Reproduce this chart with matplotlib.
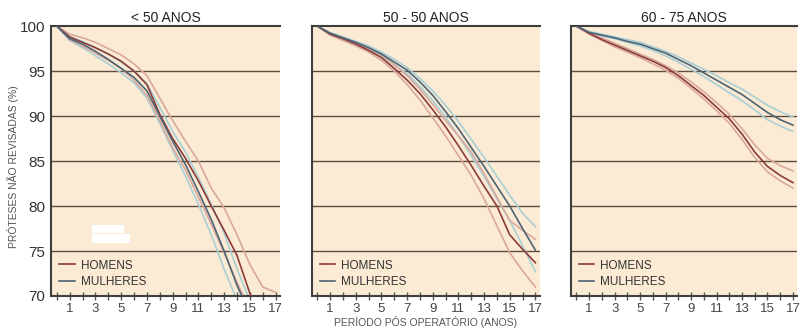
import matplotlib
matplotlib.use('Agg')
import matplotlib.pyplot as plt
from matplotlib.patches import Rectangle

plt.rcParams['font.family'] = ['Liberation Sans', 'DejaVu Sans']

anos = list(range(0, 18))
titulos = ['< 50 ANOS', '50 - 50 ANOS', '60 - 75 ANOS']

# < 50 anos
h1 = [100, 98.8, 98.2, 97.6, 96.9, 96.1, 95.0, 93.5, 90.2, 87.5, 85.3, 82.8, 80.0, 77.3, 74.5, 70.3, 67.5, 65.0]
h1_sup = [100, 99.1, 98.7, 98.2, 97.5, 96.8, 95.8, 94.5, 92.0, 89.5, 87.2, 85.0, 82.0, 79.8, 76.8, 73.5, 71.0, 70.4]
h1_inf = [100, 98.5, 97.8, 97.0, 96.2, 95.3, 94.0, 92.3, 89.5, 86.5, 84.0, 81.0, 78.0, 74.8, 71.5, 68.5, 66.0, 64.0]
m1 = [100, 98.6, 98.0, 97.2, 96.3, 95.3, 94.3, 92.8, 90.0, 87.2, 84.6, 81.6, 78.5, 75.0, 71.2, 68.0, 65.0, 62.0]
m1_sup = [100, 98.8, 98.3, 97.6, 96.9, 96.0, 95.0, 93.6, 91.0, 88.3, 86.0, 83.2, 80.2, 77.0, 73.0, 69.5, 66.5, 63.5]
m1_inf = [100, 98.4, 97.6, 96.7, 95.8, 94.8, 93.7, 92.0, 89.2, 86.2, 83.3, 80.2, 76.8, 73.0, 69.5, 66.0, 63.0, 60.0]

# 50 - 50 anos
h2 = [100, 99.1, 98.6, 98.0, 97.3, 96.5, 95.3, 94.0, 92.5, 90.7, 88.8, 86.7, 84.5, 82.2, 80.0, 76.8, 75.2, 73.7]
h2_sup = [100, 99.2, 98.7, 98.1, 97.5, 96.8, 95.7, 94.5, 93.0, 91.3, 89.5, 87.8, 86.0, 83.6, 81.0, 78.4, 77.3, 76.3]
h2_inf = [100, 99.0, 98.4, 97.8, 97.1, 96.2, 95.0, 93.5, 91.8, 89.8, 87.8, 85.6, 83.4, 80.8, 77.8, 74.8, 72.8, 71.0]
m2 = [100, 99.2, 98.7, 98.2, 97.6, 96.9, 96.0, 95.1, 93.8, 92.3, 90.5, 88.6, 86.5, 84.4, 82.2, 80.0, 77.5, 75.1]
m2_sup = [100, 99.3, 98.8, 98.3, 97.8, 97.1, 96.3, 95.4, 94.2, 92.8, 91.2, 89.4, 87.4, 85.4, 83.3, 81.2, 79.2, 77.7]
m2_inf = [100, 99.1, 98.6, 98.0, 97.4, 96.7, 95.7, 94.7, 93.3, 91.7, 89.9, 87.8, 85.6, 83.3, 80.8, 78.4, 75.6, 72.7]

# 60 - 75 anos
h3 = [100, 99.2, 98.5, 97.9, 97.3, 96.7, 96.1, 95.4, 94.5, 93.4, 92.3, 91.0, 89.7, 88.0, 86.0, 84.4, 83.4, 82.6]
h3_sup = [100, 99.3, 98.7, 98.1, 97.5, 96.9, 96.3, 95.6, 94.8, 93.8, 92.7, 91.5, 90.2, 88.6, 86.8, 85.3, 84.5, 83.9]
h3_inf = [100, 99.1, 98.4, 97.7, 97.1, 96.5, 95.8, 95.1, 94.2, 93.1, 91.9, 90.6, 89.2, 87.4, 85.4, 83.8, 82.8, 82.0]
m3 = [100, 99.3, 99.0, 98.7, 98.3, 98.0, 97.5, 97.0, 96.3, 95.6, 94.8, 94.0, 93.2, 92.4, 91.4, 90.4, 89.6, 89.0]
m3_sup = [100, 99.4, 99.1, 98.8, 98.5, 98.2, 97.7, 97.2, 96.6, 95.9, 95.2, 94.5, 93.7, 93.0, 92.1, 91.2, 90.5, 89.9]
m3_inf = [100, 99.2, 98.9, 98.6, 98.2, 97.8, 97.3, 96.7, 96.0, 95.2, 94.4, 93.5, 92.6, 91.7, 90.7, 89.6, 88.9, 88.3]

dados = [
    (h1, h1_sup, h1_inf, m1, m1_sup, m1_inf),
    (h2, h2_sup, h2_inf, m2, m2_sup, m2_inf),
    (h3, h3_sup, h3_inf, m3, m3_sup, m3_inf),
]

fundo = '#fcebd4'
cor_h = '#8c3b3b'
cor_h_claro = '#d8a89c'
cor_m = '#4d6474'
cor_m_claro = '#a8cfd4'
cor_grade = '#5b4b40'

fig = plt.figure(figsize=(8.01, 3.34), dpi=100)
lefts = [0.0637, 0.389, 0.7125]
widths = [0.286, 0.285, 0.283]

for i, (h, hs, hi, m, ms, mi) in enumerate(dados):
    ax = fig.add_axes([lefts[i], 0.1138, widths[i], 0.808])
    ax.set_facecolor(fundo)
    for y in [75, 80, 85, 90, 95]:
        ax.axhline(y, color=cor_grade, lw=1.0, zorder=1)

    ax.plot(anos, ms, color=cor_m_claro, lw=1.2, zorder=2)
    ax.plot(anos, mi, color=cor_m_claro, lw=1.2, zorder=2)
    ax.plot(anos, hs, color=cor_h_claro, lw=1.2, zorder=2)
    ax.plot(anos, hi, color=cor_h_claro, lw=1.2, zorder=2)
    ax.plot(anos, h, color=cor_h, lw=1.2, zorder=3, label='HOMENS')
    ax.plot(anos, m, color=cor_m, lw=1.2, zorder=3, label='MULHERES')

    ax.set_xlim(-0.45, 17.35)
    ax.set_ylim(70, 100)
    ax.set_xticks(range(1, 18, 2))
    ax.set_xticks(range(0, 18), minor=True)
    ax.tick_params(axis='x', which='both', direction='inout', length=6, width=1,
                   color='#555555', labelsize=9.5, labelcolor='#444444', pad=2)
    ax.set_yticks([70, 75, 80, 85, 90, 95, 100])
    if i == 0:
        ax.tick_params(axis='y', length=0, labelsize=11, labelcolor='#333333', pad=4)
        ax.set_ylabel('PRÓTESES NÃO REVISADAS (%)', fontsize=7.5, color='#555555')
        ax.yaxis.set_label_coords(-0.14, 0.48)
        ax.add_patch(Rectangle((0.179, 0.233), 0.14, 0.03, transform=ax.transAxes,
                               facecolor='white', edgecolor='none', zorder=4))
        ax.add_patch(Rectangle((0.179, 0.196), 0.166, 0.034, transform=ax.transAxes,
                               facecolor='white', edgecolor='none', zorder=4))
    else:
        ax.tick_params(axis='y', length=0, labelleft=False)
    if i == 1:
        ax.set_xlabel('PERÍODO PÓS OPERATÓRIO (ANOS)', fontsize=7.5, color='#555555', labelpad=1)

    ax.spines['right'].set_visible(False)
    for s in ['top', 'left', 'bottom']:
        ax.spines[s].set_color('#3e3e3e')
        ax.spines[s].set_linewidth(1.5)

    ax.set_title(titulos[i], fontsize=10, color='#222222', pad=3)
    ax.legend(loc='lower left', frameon=False, fontsize=8.5, handlelength=1.3,
              handletextpad=0.5, labelspacing=0.35, borderaxespad=0.3,
              labelcolor='#333333')

fig.savefig('out.png', dpi=100)
